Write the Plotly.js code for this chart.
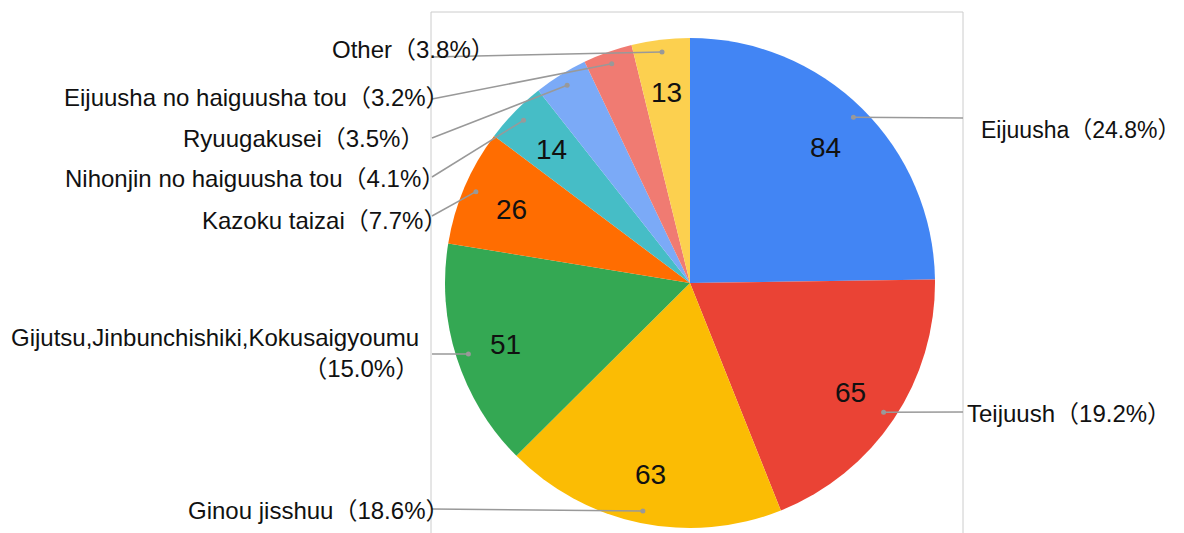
<!DOCTYPE html>
<html><head><meta charset="utf-8">
<script src="https://cdn.plot.ly/plotly-3.0.1.min.js"></script>
<style>html,body{margin:0;padding:0;background:#fff}#chart{width:1184px;height:533px}</style>
</head><body><div id="chart"></div>
<script>
// ---- data ----
const labels = ['Eijuusha', 'Teijuush', 'Ginou jisshuu', 'Gijutsu,Jinbunchishiki,Kokusaigyoumu',
  'Kazoku taizai', 'Nihonjin no haiguusha tou', 'Ryuugakusei', 'Eijuusha no haiguusha tou', 'Other'];
const values = [84, 65, 63, 51, 26, 14, 12, 11, 13];
const colors = ['#4285F4', '#EA4335', '#FBBC04', '#34A853', '#FF6D01', '#46BDC6', '#7BAAF7', '#F07B72', '#FCD04F'];
const showInside = [true, true, true, true, true, true, false, false, true];

// ---- layout config (pixel positions, not data) ----
const W = 1184, H = 533, CX = 690, CY = 283, R = 245;
const labelLayout = [
  {side: 'right', tx: 1182, anchor: 'right', size: 23, ty: 130, ly: 118},
  {side: 'right', tx: 965, ty: 413, ly: 412},
  {side: 'left',  tx: 451, ty: 511, ly: 509},
  {side: 'left',  tx: 421, ty: 353, ly: 354, br: true},
  {side: 'left',  tx: 449, ty: 220, ly: 216},
  {side: 'left',  tx: 447, ty: 179, ly: 177},
  {side: 'left',  tx: 426, ty: 138, ly: 138},
  {side: 'left',  tx: 452, ty: 98,  ly: 99},
  {side: 'left',  tx: 497, ty: 50,  ly: 57}
];
const FONT = 'Liberation Sans, Arial, Noto Sans CJK JP, sans-serif';
const px = x => x / W, py = y => 1 - y / H;

const total = values.reduce((a, b) => a + b, 0);
let cum = 0;
const mids = values.map(v => { const m = (cum + v / 2) / total; cum += v; return m * 2 * Math.PI; });
const polar = (a, r) => [CX + r * Math.sin(a), CY - r * Math.cos(a)];

const shapes = [{
  type: 'path', xref: 'paper', yref: 'paper',
  path: `M${px(431)},${py(540)} L${px(431)},${py(12)} L${px(963)},${py(12)} L${px(963)},${py(540)}`,
  line: {color: '#cccccc', width: 1}
}];
const annotations = [];

values.forEach((v, i) => {
  const a = mids[i];
  const L = labelLayout[i];
  const [dx, dy] = polar(a, R * 0.95);
  const ex = L.side === 'right' ? 963 : 432;
  shapes.push({type: 'line', xref: 'paper', yref: 'paper',
    x0: px(dx), y0: py(dy), x1: px(ex), y1: py(L.ly), line: {color: '#999999', width: 1.5}});
  shapes.push({type: 'circle', xref: 'paper', yref: 'paper',
    x0: px(dx - 2.5), x1: px(dx + 2.5), y0: py(dy - 2.5), y1: py(dy + 2.5),
    fillcolor: '#999999', line: {width: 0}});
  const pct = (v / total * 100).toFixed(1) + '%';
  annotations.push({
    xref: 'paper', yref: 'paper', x: px(L.tx), y: py(L.ty),
    xanchor: L.anchor || (L.side === 'right' ? 'left' : 'right'), yanchor: 'middle', align: 'right',
    showarrow: false, text: labels[i] + (L.br ? '<br>' : '') + '（' + pct + '）',
    font: {family: FONT, size: L.size || 24, color: '#111111'}
  });
  if (showInside[i]) {
    const [nx, ny] = polar(a, R * 0.79);
    annotations.push({xref: 'paper', yref: 'paper', x: px(nx), y: py(ny + 2),
      xanchor: 'center', yanchor: 'middle', showarrow: false, text: String(v),
      font: {family: FONT, size: 28, color: '#111111'}});
  }
});

const trace = {
  type: 'pie', labels: labels, values: values, sort: false, direction: 'clockwise', rotation: 0,
  marker: {colors: colors, line: {width: 0}}, textinfo: 'none', hoverinfo: 'none',
  domain: {x: [px(CX - R), px(CX + R)], y: [py(CY + R), py(CY - R)]}
};

Plotly.newPlot('chart', [trace], {
  width: W, height: H, margin: {l: 0, r: 0, t: 0, b: 0}, showlegend: false,
  paper_bgcolor: '#ffffff', shapes: shapes, annotations: annotations
}, {staticPlot: true});
</script></body></html>
